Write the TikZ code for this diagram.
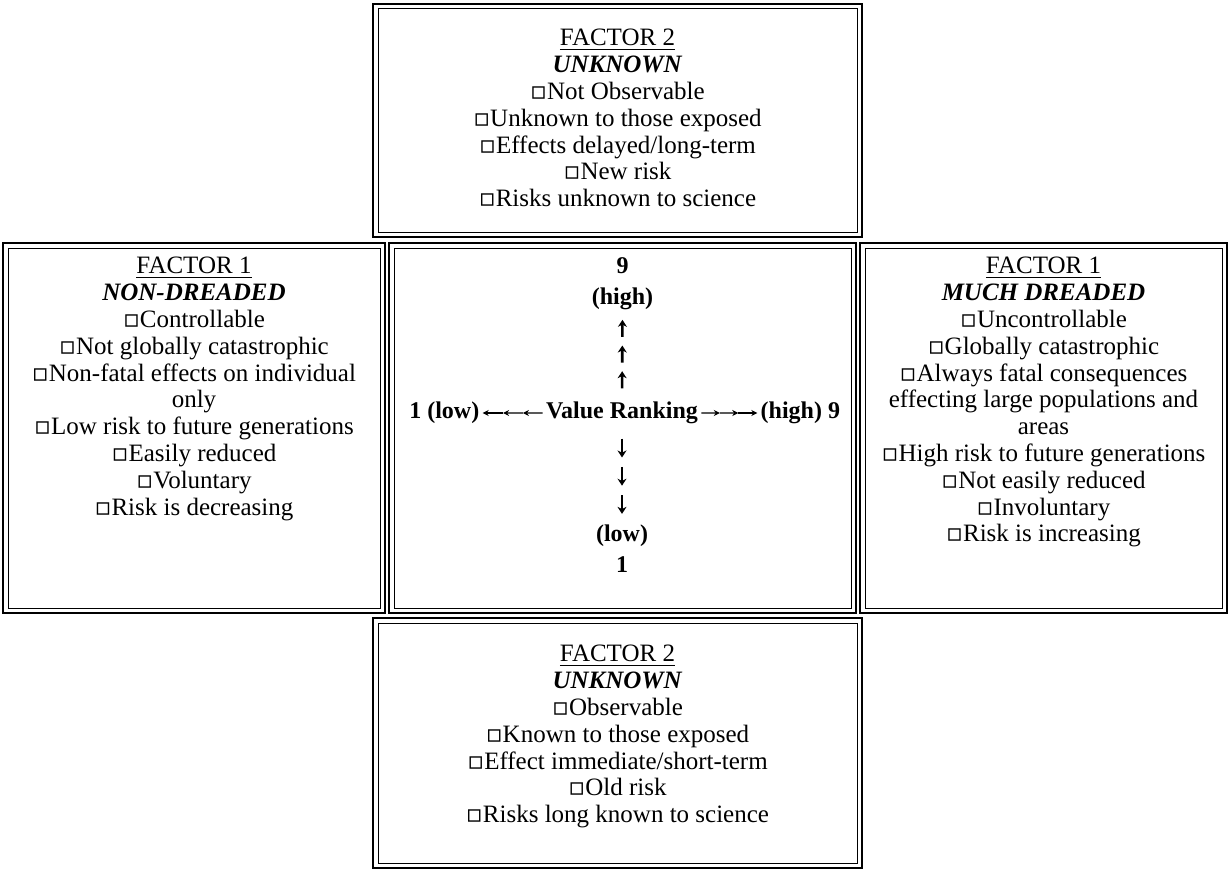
\documentclass[tikz,border=0pt]{standalone}
\usepackage{fontspec}
\setmainfont{Liberation Serif}
\newfontfamily\symfont{DejaVu Sans}
\usetikzlibrary{positioning, calc, fit, arrows.meta}
\newcommand{\sq}{{\symfont ▫}}
\newcommand{\head}[2]{\underline{#1}\\\textbf{\textit{#2}}}
\tikzset{
  frame/.style = {
    draw, line width=1.3pt, inner sep=0pt, outer sep=0pt
  },
  inner/.style = {
    draw, line width=0.5pt
  },
  txt/.style = {
    align=center, inner sep=0pt, font=\fontsize{12.5}{13.4}\selectfont
  },
  ctr/.style = {
    align=center, inner sep=1.5pt, font=\fontsize{12}{15.5}\selectfont\bfseries
  },
  varrow/.style = {
    line width=1.3pt, -{Stealth[length=3.5pt, width=4.5pt]}
  },
  harrow/.style = {
    line width=0.6pt, -{Stealth[length=3pt, width=3pt]}
  }
}
\begin{document}
\begin{tikzpicture}[x=0.5pt, y=-0.5pt]
  \useasboundingbox (0,0) rectangle (1230,872);

  % Frames
  \node[frame, fit={(373,4) (862,237)}] (top) {};
  \node[frame, fit={(3,243) (385,613)}] (left) {};
  \node[frame, fit={(389,243) (856,613)}] (mid) {};
  \node[frame, fit={(860,243) (1227,613)}] (right) {};
  \node[frame, fit={(373,618) (862,868)}] (bot) {};
  \foreach \b in {top, left, mid, right, bot}
    \draw[inner] ([shift={(2.5pt,-2.5pt)}]\b.north west)
      rectangle ([shift={(-2.5pt,2.5pt)}]\b.south east);

  % Factor boxes
  \node[txt, below=12.5pt of top.north] (toptxt) {\head{FACTOR 2}{UNKNOWN}\\
    \sq Not Observable\\
    \sq Unknown to those exposed\\
    \sq Effects delayed/long-term\\
    \sq New risk\\
    \sq Risks unknown to science};
  \node[txt, below=7pt of left.north] (lefttxt) {\head{FACTOR 1}{NON-DREADED}\\
    \sq Controllable\\
    \sq Not globally catastrophic\\
    \sq Non-fatal effects on individual\\
    only\\
    \sq Low risk to future generations\\
    \sq Easily reduced\\
    \sq Voluntary\\
    \sq Risk is decreasing};
  \node[txt, below=7pt of right.north] (righttxt) {\head{FACTOR 1}{MUCH DREADED}\\
    \sq Uncontrollable\\
    \sq Globally catastrophic\\
    \sq Always fatal consequences\\
    effecting large populations and\\
    areas\\
    \sq High risk to future generations\\
    \sq Not easily reduced\\
    \sq Involuntary\\
    \sq Risk is increasing};
  \node[txt, below=13.5pt of bot.north] (bottxt) {\head{FACTOR 2}{UNKNOWN}\\
    \sq Observable\\
    \sq Known to those exposed\\
    \sq Effect immediate/short-term\\
    \sq Old risk\\
    \sq Risks long known to science};

  % Value ranking cross
  \node[ctr] (vr) at (622,413) {Value Ranking};
  \node[ctr, below=5.5pt of mid.north] (high) {9\\(high)};
  \node[ctr, below=47pt of vr] (low) {(low)\\1};
  \node[ctr, left=30pt of vr] (lowh) {1 (low)};
  \node[ctr, right=28pt of vr] (highh) {(high) 9};

  \foreach \a/\b in {0.12/0.32, 0.42/0.62, 0.72/0.92} {
    \draw[varrow] ($(vr.north)!\a!(high.south)$) -- ($(vr.north)!\b!(high.south)$);
    \draw[varrow] ($(vr.south)!\a!(low.north)$) -- ($(vr.south)!\b!(low.north)$);
  }
  \foreach \a/\b in {0/0.33, 0.33/0.66, 0.66/1} {
    \draw[harrow] ($(vr.west)!\a!(lowh.east)$) -- ($(vr.west)!\b!(lowh.east)$);
    \draw[harrow] ($(vr.east)!\a!(highh.west)$) -- ($(vr.east)!\b!(highh.west)$);
  }

\end{tikzpicture}
\end{document}
